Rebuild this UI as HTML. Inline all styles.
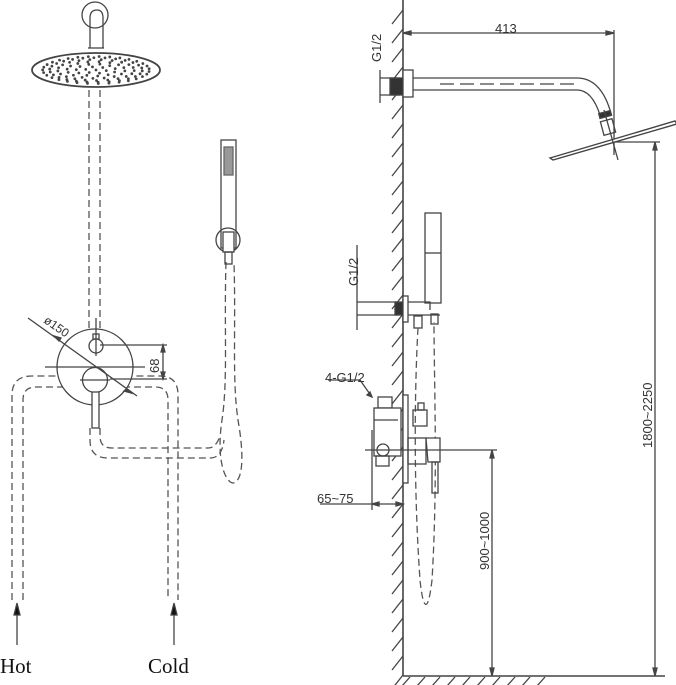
<!DOCTYPE html>
<html><head><meta charset="utf-8"><style>
html,body{margin:0;padding:0;background:#fff;}
svg{display:block;}
text{font-family:"Liberation Sans",sans-serif;fill:#333;}
</style></head><body>
<svg id="s" width="676" height="685" viewBox="0 0 676 685" xmlns="http://www.w3.org/2000/svg">
<g fill="none" stroke="#444" stroke-width="1.3">
<circle cx="95" cy="15" r="13"/>
<path d="M90 48 V18 Q90 10 97 10 Q103 10 103 18 V48"/>
<line x1="88" y1="48" x2="104" y2="48"/>
<ellipse cx="96" cy="70" rx="64" ry="17" stroke-width="1.8"/>
<g stroke-dasharray="7,4" stroke="#555">
<line x1="89" y1="90" x2="89" y2="330"/>
<line x1="100" y1="90" x2="100" y2="330"/>
<path d="M12 600 V395 Q12 376 32 376 H160 Q178 376 178 395 V600"/>
<path d="M23 600 V400 Q23 387 36 387 H155 Q168 387 168 400 V600"/>
<path d="M90 428 V440 Q90 458 108 458 H210 Q222 458 224 440"/>
<path d="M100 428 V436 Q100 448 112 448 H208 Q216 448 220 436"/>
<path d="M226 262 C224 330 228 380 222 420 C216 460 225 482 233 483 C242 482 245 460 238 420 C232 380 236 330 234 262"/>
</g>
<circle cx="95" cy="367" r="38" fill="#fff"/>
<circle cx="96" cy="346" r="7"/>
<circle cx="95" cy="380" r="12.5"/>
<rect x="93" y="334" width="6" height="5"/>
<rect x="92" y="392" width="7" height="36" fill="#fff"/>
<line x1="96" y1="318" x2="96" y2="356"/>
<line x1="45" y1="367" x2="145" y2="367"/>
<line x1="80" y1="380" x2="110" y2="380"/>
<line x1="28" y1="318" x2="137" y2="396"/>
<path d="M59 341 L54 336 L61 338 Z M127 389 L131 393 L124 391 Z" fill="#444"/>
<line x1="100" y1="345" x2="167" y2="345"/>
<line x1="110" y1="379" x2="167" y2="379"/>
<line x1="163" y1="345" x2="163" y2="379"/>
<path d="M163 345 l-2 7 h4 Z M163 379 l-2 -7 h4 Z" fill="#444"/>
<rect x="221" y="140" width="15" height="108" fill="#fff"/>
<rect x="224" y="147" width="9" height="28" fill="#999" stroke="#666"/>
<circle cx="228" cy="240" r="12"/>
<rect x="223" y="232" width="11" height="20" fill="#fff"/>
<rect x="225" y="252" width="7" height="12"/>
<line x1="17" y1="607" x2="17" y2="645"/>
<line x1="174" y1="607" x2="174" y2="645"/>
<path d="M17 603 l-3 12 h6 Z M174 603 l-3 12 h6 Z" fill="#111"/>

<line x1="403" y1="0" x2="403" y2="676" stroke-width="1.6"/>
<line x1="403" y1="676" x2="665" y2="676" stroke-width="1.6"/>
<g id="hatch"></g>
<line x1="403" y1="33" x2="614" y2="33"/>
<line x1="614" y1="30" x2="614" y2="155"/>
<path d="M403 33 l8 -2 v4 Z M614 33 l-8 -2 v4 Z" fill="#444"/>
<line x1="380" y1="70" x2="380" y2="103"/>
<line x1="380" y1="78" x2="400" y2="78"/>
<line x1="380" y1="95" x2="400" y2="95"/>
<rect x="390" y="78" width="13" height="17" fill="#333"/>
<rect x="403" y="70" width="10" height="27" fill="#fff"/>
<path d="M413 78 H577 Q600 78 610 110"/>
<path d="M413 90 H577 Q592 90 600 115"/>
<line x1="440" y1="84" x2="575" y2="84" stroke-dasharray="14,6"/>
<rect x="599" y="112" width="12" height="5" fill="#333" transform="rotate(-15 605 114)"/>
<rect x="602" y="120" width="12" height="14" transform="rotate(-15 608 127)"/>
<path d="M550 158 L675 121 L677 124 L553 160 Z" fill="#fff" stroke-width="1.4"/>
<line x1="604" y1="110" x2="618" y2="160"/>
<line x1="615" y1="142" x2="660" y2="142"/>
<line x1="655" y1="142" x2="655" y2="676"/>
<path d="M655 142 l-2 8 h4 Z M655 676 l-2 -8 h4 Z" fill="#444"/>
<rect x="425" y="213" width="16" height="90" fill="#fff"/>
<line x1="425" y1="253" x2="441" y2="253"/>
<line x1="357" y1="245" x2="357" y2="330"/>
<line x1="357" y1="302" x2="398" y2="302"/>
<line x1="357" y1="315" x2="398" y2="315"/>
<rect x="395" y="302" width="8" height="13" fill="#333"/>
<rect x="403" y="296" width="5" height="26" fill="#fff"/>
<path d="M408 302 H430 V310 M408 315 H440"/>
<rect x="414" y="316" width="8" height="12"/>
<rect x="431" y="314" width="7" height="10"/>
<g stroke-dasharray="7,4" stroke="#555">
<path d="M418 328 C415 380 413 480 420 580 C423 610 428 615 432 580 C438 480 434 380 434 322"/>
</g>
<path d="M328 380 H360 L372 397"/>
<path d="M372 397 l-5 -2 l3 -3 Z" fill="#444"/>
<rect x="378" y="397" width="14" height="11"/>
<rect x="374" y="408" width="27" height="48" fill="#fff"/>
<line x1="374" y1="420" x2="398" y2="420"/>
<circle cx="383" cy="450" r="6"/>
<rect x="376" y="456" width="13" height="10"/>
<rect x="403" y="395" width="5" height="88" fill="#fff"/>
<rect x="413" y="410" width="14" height="16"/>
<rect x="418" y="403" width="6" height="7"/>
<rect x="408" y="438" width="18" height="26"/>
<path d="M426 438 H440 V462 H428 Z" fill="#fff"/>
<rect x="432" y="462" width="6" height="31"/>
<line x1="365" y1="450" x2="497" y2="450"/>
<line x1="492" y1="450" x2="492" y2="676"/>
<path d="M492 450 l-2 8 h4 Z M492 676 l-2 -8 h4 Z" fill="#444"/>
<line x1="372" y1="430" x2="372" y2="510"/>
<line x1="320" y1="504" x2="403" y2="504"/>
<path d="M372 504 l7 -2 v4 Z M403 504 l-7 -2 v4 Z" fill="#444"/>
</g>
<g id="dots" fill="#444"></g>
<text x="43" y="322" font-size="12" transform="rotate(35 43 322)">ø150</text>
<text x="159" y="373" font-size="13" transform="rotate(-90 159 373)">68</text>
<text x="0" y="673" font-size="21" style="font-family:'Liberation Serif',serif;fill:#111">Hot</text>
<text x="148" y="673" font-size="21" style="font-family:'Liberation Serif',serif;fill:#111">Cold</text>
<text x="495" y="33" font-size="13">413</text>
<text x="381" y="62" font-size="13" transform="rotate(-90 381 62)">G1/2</text>
<text x="358" y="286" font-size="13" transform="rotate(-90 358 286)">G1/2</text>
<text x="325" y="382" font-size="13">4-G1/2</text>
<text x="317" y="503" font-size="13">65~75</text>
<text x="489" y="570" font-size="13" transform="rotate(-90 489 570)">900~1000</text>
<text x="652" y="448" font-size="13" transform="rotate(-90 652 448)">1800~2250</text>
</svg>
<script>
var ns="http://www.w3.org/2000/svg";
var h=document.getElementById("hatch");
for(var y=10;y<676;y+=19){var l=document.createElementNS(ns,"line");l.setAttribute("x1",392);l.setAttribute("y1",y+14);l.setAttribute("x2",403);l.setAttribute("y2",y);h.appendChild(l);}
for(var x=410;x<550;x+=15){var l=document.createElementNS(ns,"line");l.setAttribute("x1",x-8);l.setAttribute("y1",686);l.setAttribute("x2",x);l.setAttribute("y2",677);h.appendChild(l);}
var d=document.getElementById("dots");
var rings=[[0,0,1],[0.18,0.22,6],[0.34,0.4,11],[0.5,0.56,16],[0.66,0.7,21],[0.8,0.82,26],[0.92,0.9,31]];
rings.forEach(function(r){for(var i=0;i<r[2];i++){var a=i/r[2]*6.283+r[0];var c=document.createElementNS(ns,"circle");c.setAttribute("cx",96+Math.cos(a)*58*r[0]);c.setAttribute("cy",70+Math.sin(a)*15*r[1]);c.setAttribute("r",1.4);d.appendChild(c);}});
</script>
</body></html>
